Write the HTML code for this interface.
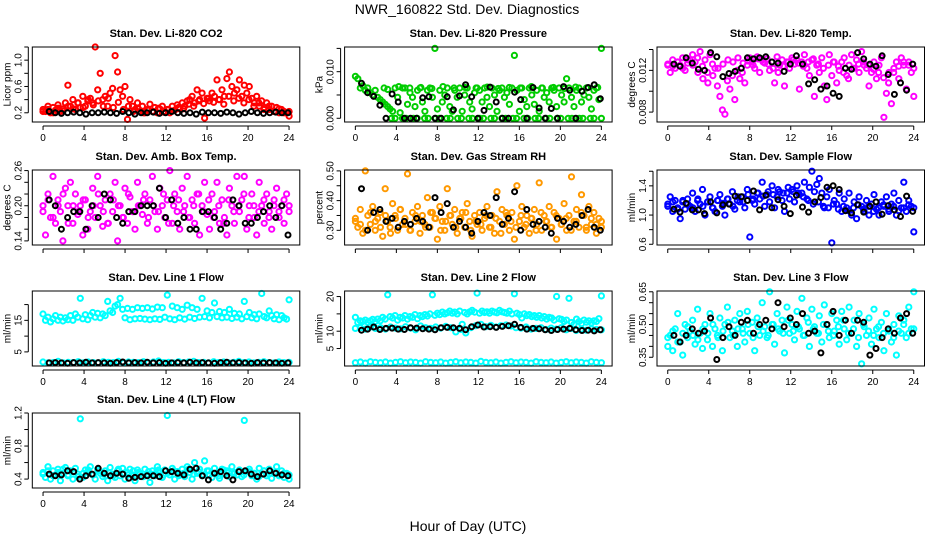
<!DOCTYPE html>
<html><head><meta charset="utf-8">
<style>
html,body{margin:0;padding:0;background:#fff;}
svg{display:block;font-family:"Liberation Sans",Arial,sans-serif;}
</style></head>
<body>
<svg id="chart" width="936" height="540" viewBox="0 0 936 540">
<rect width="936" height="540" fill="#fff"/>
<text x="467" y="14" text-anchor="middle" font-size="14">NWR_160822  Std. Dev. Diagnostics</text>
<text x="468" y="531" text-anchor="middle" font-size="14">Hour of Day (UTC)</text>
</svg>
<script>
// ---- data arrays ----
const hourTicks = [0,4,8,12,16,20,24];
const hourTickLabels = ["0","4","8","12","16","20","24"];

const co2Cloud = [.25,.22,.3,.2,.28,.24,.32,.22,.26,.35,.62,.3,.4,.25,.35,.28,.45,.3,.38,.42,.35,1.2,.55,.8,.4,.45,.3,.5,.57,1.07,.82,.55,.45,.6,.1,.4,.3,.25,.35,.22,.3,.2,.25,.33,.22,.28,.2,.26,.3,.22,.25,.2,.3,.24,.32,.26,.35,.3,.38,.4,.45,.35,.55,.4,.5,.12,.42,.38,.5,.45,.7,.4,.55,.45,.72,.82,.6,.5,.55,.7,.45,.62,.5,.6,.42,.35,.45,.3,.38,.28,.35,.25,.3,.22,.28,.2,.25,.22,.2,.15];
const co2Low = [.22,.25,.2,.27,.23,.3,.26,.35,.28,.4,.32,.38,.3,.42,.28,.36,.25,.3,.22,.26,.2,.24,.22,.27,.21,.25,.23,.28,.26,.33,.3,.38,.34,.42,.36,.4,.33,.45,.38,.42,.35,.4,.3,.35,.25,.3,.22,.26,.2,.22];
const co2Black = [.22,.2,.19,.2,.21,.2,.18,.2,.2,.21,.2,.19,.22,.2,.18,.2,.2,.21,.19,.2,.22,.2,.19,.2,.18,.21,.2,.2,.19,.21,.2,.18,.2,.22,.2,.19,.2,.21,.2,.2];

const pressCloud = [.009,.0085,.0065,.007,.006,.0065,.0055,.005,.006,.0045,.004,.0035,.003,.0025,.002,.0015,.0065,.0045,.0012,.0065,.0065,.003,.0055,.0045,.0025,.006,.0065,.0035,.0015,.006,.0065,.0045,.015,.002,.006,.0035,.005,.0065,.0025,.0015,.006,.0045,.0065,.0015,.005,.0065,.0035,.002,.0055,.0065,.006,.0035,.0065,.0045,.0025,.0065,.005,.0015,.006,.0065,.0045,.0055,.003,.0065,.0135,.006,.0015,.0065,.004,.0025,.0065,.005,.003,.006,.0015,.0065,.0045,.0055,.0035,.0065,.006,.0025,.0065,.005,.0035,.0085,.0065,.0045,.0025,.006,.0065,.0035,.005,.0065,.0045,.002,.006,.0065,.004,.015];
const pressFloor = [.0065,.0062,.0,.0,.0068,.0,.0,.0065,.0,.0,.0066,.0,.0,.0064,.0,.0,.0068,.0,.0,.0065,.0,.0,.0066,.0,.0,.0065,.0,.0,.0067,.0,.0,.0064,.0,.0,.0066,.0,.0,.0065,.0,.0,.0068,.0,.0,.0065,.0,.0,.0066,.0,.0,.0064,.0,.0,.0067,.0,.0,.0065,.0,.0,.0066,.0];
const pressBlack = [.0075,.0055,.0047,.0028,.0,.0052,.0035,.0,.0,.0,.0044,.0046,.0,.0,.0046,.0018,.0048,.0072,.0046,.0,.0017,.0067,.0035,.0,.0,.0056,.004,.0,.0066,.0022,.0,.0021,.0,.0068,.006,.0,.0058,.0066,.0072,.0042];

const ltempCloud = [.0125,.0118,.013,.0122,.0128,.0125,.0132,.012,.0127,.013,.0135,.0128,.0132,.0138,.0124,.013,.0118,.0135,.0126,.0122,.0105,.0095,.0082,.0078,.011,.0102,.0115,.0092,.012,.0112,.0118,.0108,.0125,.0132,.0128,.0122,.0133,.0118,.013,.0127,.0131,.012,.0128,.0108,.0133,.0125,.013,.0105,.0128,.0122,.0132,.0126,.013,.0102,.0128,.0135,.0122,.0115,.013,.0095,.0125,.0118,.0132,.0105,.0092,.0135,.0115,.0128,.0108,.012,.0128,.0132,.0115,.0125,.0135,.0122,.013,.0118,.0138,.0125,.0122,.0105,.0118,.0128,.0112,.0125,.0132,.0075,.0098,.0118,.0088,.0122,.0128,.0112,.0132,.0125,.0102,.0128,.0118,.0095];
const ltempDense = [.0126,.0124,.0128,.0122,.013,.0125,.0118,.0112,.0108,.0115,.0122,.0126,.013,.0128,.0132,.0127,.0129,.0125,.0131,.0128,.0126,.0122,.0118,.0124,.0128,.013,.0127,.0124,.0128,.0131,.0126,.0122,.0125,.0128,.0124,.0118,.0112,.0122,.0126,.0128,.0125,.0121,.0118,.0113,.0108,.0118,.0124,.0128,.0125,.0122];
const ltempBlack = [.0126,.0124,.0132,.0127,.0121,.012,.0137,.0133,.0114,.0117,.0119,.0122,.0132,.0131,.0132,.0133,.0128,.0127,.0119,.0126,.0134,.0126,.0107,.0111,.0102,.0105,.0098,.0095,.0122,.0121,.0137,.0131,.0126,.0124,.0134,.0116,.0097,.0108,.0101,.0126];

const boxCloud = [.2,.15,.22,.18,.25,.17,.21,.19,.14,.23,.2,.24,.17,.22,.185,.2,.15,.21,.16,.19,.23,.18,.25,.2,.165,.21,.17,.22,.19,.24,.14,.2,.18,.23,.17,.215,.19,.16,.24,.2,.185,.22,.17,.21,.25,.19,.16,.23,.2,.18,.21,.26,.17,.22,.19,.16,.23,.2,.25,.18,.21,.17,.22,.15,.2,.24,.185,.16,.22,.19,.24,.17,.21,.18,.15,.23,.2,.17,.25,.19,.21,.25,.16,.2,.22,.18,.15,.24,.2,.17,.22,.19,.16,.21,.23,.18,.2,.17,.22,.19];
const boxDense = [.19,.21,.18,.2,.22,.17,.2,.19,.21,.18,.2,.22,.19,.17,.21,.2,.18,.22,.19,.2,.21,.18,.2,.19,.22,.17,.2,.21,.19,.18,.2,.22,.19,.21,.18,.2,.17,.21,.19,.2,.22,.18,.2,.19,.21,.18,.2,.19,.21,.2];
const boxBlack = [.21,.2,.16,.18,.19,.19,.16,.2,.18,.22,.21,.18,.17,.19,.19,.2,.2,.2,.23,.18,.21,.17,.18,.16,.16,.19,.19,.18,.16,.17,.21,.2,.17,.17,.18,.19,.2,.18,.2,.15];

const rhCloud = [.33,.31,.37,.29,.5,.35,.32,.38,.3,.34,.36,.28,.44,.33,.31,.39,.35,.3,.37,.32,.34,.49,.3,.36,.33,.38,.29,.35,.32,.41,.31,.36,.34,.27,.38,.33,.3,.44,.35,.32,.37,.29,.34,.36,.31,.39,.33,.28,.35,.32,.36,.3,.34,.38,.31,.35,.29,.43,.33,.37,.32,.35,.3,.36,.27,.45,.33,.38,.31,.35,.29,.34,.37,.32,.46,.3,.35,.33,.38,.31,.36,.27,.34,.32,.39,.3,.35,.48,.33,.37,.31,.42,.35,.3,.38,.32,.36,.29,.34,.31];
const rhDense = [.34,.32,.3,.36,.33,.31,.35,.29,.34,.37,.32,.3,.35,.33,.31,.36,.34,.3,.33,.35,.31,.34,.36,.3,.33,.32,.35,.31,.34,.29,.36,.33,.31,.35,.32,.34,.3,.36,.33,.31,.35,.32,.34,.3,.33,.36,.31,.34,.32,.33];
const rhBlack = [.44,.3,.36,.37,.33,.34,.31,.33,.32,.34,.33,.31,.41,.36,.39,.31,.33,.31,.29,.33,.36,.35,.41,.32,.34,.43,.3,.37,.32,.33,.31,.29,.34,.33,.31,.32,.35,.37,.31,.3];

const flowCloud = [1.15,1.25,1.05,1.2,1.1,.95,1.18,1.08,1.22,1.12,1.3,1.05,1.2,1.15,1.35,1.0,1.18,1.25,1.1,1.05,1.2,1.28,1.12,1.0,1.22,1.15,1.32,1.08,1.2,1.18,1.25,1.1,1.35,.7,1.2,1.15,1.3,1.22,1.45,1.12,1.28,1.18,1.4,1.1,1.25,1.32,1.2,1.05,1.3,1.22,1.35,1.18,1.4,1.28,1.3,1.45,1.22,1.38,1.6,1.32,1.42,1.5,1.3,1.1,1.25,1.35,.62,1.2,1.15,1.3,1.05,1.22,1.1,1.3,1.0,1.18,.95,1.25,1.12,1.05,1.2,1.0,1.15,1.28,1.08,1.0,1.18,1.12,1.25,1.05,1.15,1.3,1.0,1.2,1.1,1.45,1.05,1.2,1.12,.77];
const flowDense = [1.12,1.18,1.08,1.2,1.15,1.1,1.22,1.12,1.18,1.1,1.2,1.16,1.22,1.12,1.25,1.18,1.28,1.22,1.3,1.26,1.32,1.28,1.35,1.3,1.38,1.32,1.3,1.25,1.2,1.15,1.18,1.12,1.1,1.15,1.08,1.12,1.06,1.1,1.14,1.08,1.12,1.05,1.1,1.14,1.08,1.12,1.06,1.1,1.14,1.1];
const flowBlack = [1.08,1.04,1.16,1.07,1.07,1.02,1.18,1.03,1.14,1.15,1.26,1.25,1.2,1.33,1.07,1.27,1.1,1.21,1.12,1.02,1.27,1.11,1.04,1.18,1.24,1.38,1.4,1.35,1.06,1.03,1.14,1.04,1.12,1.18,1.01,1.13,1.07,.98,1.26,1.05];

const line1Upper = [17,15,16,14.5,15.5,16.5,15,16,14.8,15.8,15.2,16.5,15,17,16,22,15.5,16.8,15.2,16.5,17.5,16,17.2,15.8,17,16.5,21,18,17.5,19.5,20,22,18.5,15.8,18.8,15.2,18.5,15.5,19,15.6,18.8,15.4,19,15.2,18.6,15.5,19.2,15.3,19,16,23,15.5,19.5,15.2,19,15.8,18.5,15.4,19.8,16,19,15.6,18.5,16,22,16.2,18,15.8,17.5,20.5,16.2,17.8,15.8,17.5,16,18.5,15.6,17.2,16,17,15.5,21,16.2,17.5,15.8,16.8,15.5,17,23.5,16.2,15.8,18,16.5,15.5,16.8,15.2,16.5,15.8,15.4,21.5];
const line1Lower = [1.8,1.5,1.6,2,1.5,1.7,1.6,1.9,1.5,1.8,1.6,1.5,1.9,1.7,1.6,2,1.5,1.8,1.7,1.6,1.9,1.5,1.8,2.1,1.6,1.7,1.5,1.9,1.6,1.8,2,1.6,1.7,1.5,1.9,1.6,1.8,1.5,1.7,2,1.6,1.8,1.5,1.7,1.9,1.6,1.5,1.8,1.6,1.7];
const line1Black = [1.5,1.6,1.5,1.4,1.6,1.5,1.7,1.5,1.6,1.5,1.4,1.6,1.8,1.5,1.6,1.5,1.7,1.5,1.6,1.4,1.5,1.6,1.5,1.7,1.5,1.6,1.5,1.4,1.6,1.7,1.5,1.6,1.5,1.4,1.6,1.5,1.6,1.5,1.4,1.5];

const line2Upper = [14,12.5,13,12.8,13.2,12.6,13,13.4,12.8,13.5,13,14,13.5,20.5,14.2,13.8,14.5,13.2,14,13.8,14.5,13.5,14.2,14,14.8,13.6,14.5,14.2,14.8,14.4,15,20.5,14.6,15.2,14.8,15.5,15,15.3,15.8,15.2,15.5,15,15.8,12,15.4,15,15.6,16,15.5,21,15.2,15.8,15.4,15.6,15.2,15.8,15.5,15.3,16,15.6,15.4,15.2,15.8,15,20.8,15.2,14.8,13.8,15,14.5,14.8,14.2,14.5,14,14.5,13.8,14.2,13.5,14,13.8,13.2,20,13.6,13.4,12.8,13.2,19.5,12.5,12,13.5,12.8,12.2,13.2,12.6,13,12.4,13,12.8,13.6,20.2];
const line2Middle = [10.8,11,10.6,11.2,10.8,11,10.6,11.2,10.9,10.7,11.3,10.9,10.4,11.5,11,10.8,11.2,10.9,11.4,11,9.8,10.5,9.5,11,11.6,12,11.3,11.7,11.2,11.6,11.8,11.5,11,10.9,11.2,10.6,10.8,11,10.5,10.9,10.6,11,10.4,10.8,10.2,10.6,10.3,10.7,10.5,10.4];
const line2Bottom = [.9,1.1,.8,1.2,1,.9,1.1,.8,1,1.2,.9,1.1,1,.8,1.2,1,.9,1.1,.8,1,1.2,.9,1.1,1,.8,1.3,1,.9,1.1,.8,1,1.2,.9,1.1,1,.8,1.2,1,.9,1.1,.8,1,1.2,.9,1.1,1,.8,1.2,1,.9];
const line2Black = [10.3,10.6,11.2,10.5,10.8,10.9,10.6,10.5,11,10.9,10.7,10.6,10.4,11,11.1,11,10.8,10.4,11.3,11.8,11.2,11.3,11.1,11.4,11.6,12,11.1,10.6,10.8,10.7,10.4,10.2,10.5,10.6,10.8,10.4,10.2,10.3,10.1,10.4];

const line3Cloud = [.4,.45,.38,.48,.55,.42,.36,.5,.44,.47,.52,.41,.57,.46,.39,.5,.43,.55,.4,.48,.45,.53,.38,.5,.58,.44,.47,.52,.4,.55,.48,.42,.56,.46,.51,.38,.53,.45,.6,.49,.44,.65,.5,.41,.55,.47,.52,.37,.58,.46,.5,.43,.56,.48,.62,.45,.53,.4,.57,.49,.46,.54,.42,.59,.5,.44,.55,.47,.52,.41,.56,.48,.43,.58,.46,.52,.4,.55,.32,.49,.45,.53,.41,.57,.48,.44,.51,.38,.55,.47,.42,.5,.36,.54,.46,.52,.44,.58,.48,.65];
const line3Dense = [.44,.47,.42,.46,.49,.45,.43,.48,.46,.5,.44,.47,.51,.45,.48,.46,.5,.44,.49,.47,.45,.5,.48,.46,.52,.47,.49,.45,.51,.48,.46,.5,.47,.45,.49,.52,.46,.48,.44,.5,.47,.45,.49,.46,.48,.44,.47,.5,.46,.48];
const line3Black = [.45,.42,.45,.48,.46,.47,.53,.34,.44,.49,.45,.51,.52,.46,.5,.52,.48,.6,.49,.53,.5,.55,.46,.47,.37,.5,.56,.45,.52,.46,.52,.51,.36,.39,.44,.48,.46,.53,.55,.46];

const line4Cloud = [.48,.42,.55,.4,.5,.45,.52,.38,.47,.54,.44,.5,.4,.53,.46,1.13,.42,.51,.48,.55,.45,.4,.52,.47,.43,.5,.38,.54,.46,.42,.5,.44,.53,.4,.48,.52,.45,.38,.51,.47,.43,.52,.46,.36,.5,.44,.55,.48,.42,.51,1.17,.45,.53,.4,.49,.46,.52,.43,.55,.48,.4,.6,.47,.52,.44,.62,.5,.45,.42,.53,.47,.41,.52,.46,.5,.43,.55,.48,.45,.51,.43,1.11,.49,.52,.44,.47,.4,.53,.46,.5,.44,.52,.41,.48,.55,.45,.5,.42,.47,.4];
const line4Dense = [.46,.5,.44,.48,.52,.45,.49,.43,.47,.51,.45,.5,.46,.48,.44,.52,.47,.45,.5,.48,.43,.49,.46,.51,.45,.48,.5,.44,.47,.52,.46,.49,.45,.5,.47,.44,.51,.48,.46,.5,.45,.49,.47,.43,.5,.46,.48,.44,.47,.45];
const line4Black = [.46,.44,.45,.5,.49,.4,.44,.46,.53,.47,.44,.47,.46,.41,.42,.43,.44,.44,.43,.5,.49,.47,.45,.52,.53,.44,.39,.47,.49,.44,.39,.49,.5,.46,.43,.46,.5,.47,.45,.44];

// ---- layout ----
const colLeft = [32.3, 344.6, 657];
const rowTop = [47, 170, 291, 413];
const boxW = 267.5, boxH = 75, pad = 10.75;
const svg = document.getElementById('chart');
const NS = 'http://www.w3.org/2000/svg';
function mk(tag, attrs, parent){ const e=document.createElementNS(NS,tag); for(const k in attrs) e.setAttribute(k,attrs[k]); (parent||svg).appendChild(e); return e; }

const panels = [
 {key:'co2', title:'Stan. Dev. Li-820 CO2', ylab:'Licor ppm', col:0,row:0, ymin:0.06,ymax:1.2, ticks:[0.2,0.4,0.6,0.8,1.0,1.2], labels:['0.2','','0.6','','1.0',''], clouds:[[co2Cloud,'#ff0000'],[co2Low,'#ff0000']], black:co2Black},
 {key:'pressure', title:'Stan. Dev. Li-820 Pressure', ylab:'kPa', col:1,row:0, ymin:-0.0008,ymax:0.0153, ticks:[0,0.005,0.01,0.015], labels:['0.000','','0.010',''], clouds:[[pressCloud,'#00cc00'],[pressFloor,'#00cc00']], black:pressBlack, floorStart:2.8},
 {key:'licor-temp', title:'Stan. Dev. Li-820 Temp.', ylab:'degrees C', col:2,row:0, ymin:0.00705,ymax:0.01424, ticks:[0.008,0.010,0.012,0.014], labels:['0.008','','0.012',''], clouds:[[ltempCloud,'#ff00ff'],[ltempDense,'#ff00ff']], black:ltempBlack},
 {key:'box-temp', title:'Stan. Dev. Amb. Box Temp.', ylab:'degrees C', col:0,row:1, ymin:0.133,ymax:0.261, ticks:[0.14,0.16,0.18,0.20,0.22,0.24,0.26], labels:['0.14','','','0.20','','','0.26'], clouds:[[boxCloud,'#ff00ff'],[boxDense,'#ff00ff']], black:boxBlack},
 {key:'rh', title:'Stan. Dev. Gas Stream RH', ylab:'percent', col:1,row:1, ymin:0.2506,ymax:0.503, ticks:[0.30,0.35,0.40,0.45,0.50], labels:['0.30','','0.40','','0.50'], clouds:[[rhCloud,'#ff9900'],[rhDense,'#ff9900']], black:rhBlack},
 {key:'sample-flow', title:'Stan. Dev. Sample Flow', ylab:'ml/min', col:2,row:1, ymin:0.59,ymax:1.617, ticks:[0.6,0.8,1.0,1.2,1.4,1.6], labels:['0.6','','1.0','','1.4',''], clouds:[[flowCloud,'#0000ff'],[flowDense,'#0000ff']], black:flowBlack},
 {key:'line1', title:'Stan. Dev. Line 1 Flow', ylab:'ml/min', col:0,row:2, ymin:0.53,ymax:24.3, ticks:[5,10,15,20], labels:['5','','15',''], clouds:[[line1Upper,'#00ffff'],[line1Lower,'#00ffff']], black:line1Black},
 {key:'line2', title:'Stan. Dev. Line 2 Flow', ylab:'ml/min', col:1,row:2, ymin:-0.04,ymax:21.6, ticks:[5,10,15,20], labels:['5','10','','20'], clouds:[[line2Upper,'#00ffff'],[line2Middle,'#00ffff'],[line2Bottom,'#00ffff']], black:line2Black},
 {key:'line3', title:'Stan. Dev. Line 3 Flow', ylab:'ml/min', col:2,row:2, ymin:0.31,ymax:0.6536, ticks:[0.35,0.40,0.45,0.50,0.55,0.60,0.65], labels:['0.35','','','0.50','','','0.65'], clouds:[[line3Cloud,'#00ffff'],[line3Dense,'#00ffff']], black:line3Black},
 {key:'line4', title:'Stan. Dev. Line 4 (LT) Flow', ylab:'ml/min', col:0,row:3, ymin:0.292,ymax:1.2, ticks:[0.4,0.6,0.8,1.0,1.2], labels:['0.4','','0.8','','1.2'], clouds:[[line4Cloud,'#00ffff'],[line4Dense,'#00ffff']], black:line4Black}
];

panels.forEach(p=>{
  const L=colLeft[p.col], T=rowTop[p.row];
  const xs = h => L + pad + (h/24)*(boxW-2*pad);
  const ys = v => T + boxH - (v-p.ymin)/(p.ymax-p.ymin)*boxH;
  const g = mk('g',{});
  
  
  const tt = mk('text',{x:L+boxW/2,y:T-10,'text-anchor':'middle','font-size':'11','font-weight':'bold'},g);
  tt.textContent=p.title;
  
  
  const pts = mk('g',{fill:'none','stroke-width':'2'},g);
  
  
  p.clouds.forEach(([arr,color],ci)=>{
    const start = (ci===1 && p.floorStart) ? p.floorStart : 0;
    arr.forEach((v,i)=>{
      const h = start + i*(24-start)/(arr.length-1);
      const c = mk('circle',{cx:xs(h).toFixed(1),cy:ys(v).toFixed(1),r:'2.6',stroke:color},pts);
      
      
    });
  });
  p.black.forEach((v,i)=>{
    const h = 0.6 + i*23.3/(p.black.length-1);
    const c = mk('circle',{cx:xs(h).toFixed(1),cy:ys(v).toFixed(1),r:'2.5',stroke:'#000'},pts);
    
    
  });
  const bx = mk('rect',{x:L,y:T,width:boxW,height:boxH,fill:'none',stroke:'#000','stroke-width':'1'},g);
  
  
  const bottom=T+boxH;
  mk('line',{x1:xs(0),x2:xs(24),y1:bottom+4,y2:bottom+4,stroke:'#000'},g);
  hourTicks.forEach((h,i)=>{
    mk('line',{x1:xs(h),x2:xs(h),y1:bottom+4,y2:bottom+8,stroke:'#000'},g);
    if(p.row!==1){
      const t=mk('text',{x:xs(h),y:bottom+19,'text-anchor':'middle','font-size':'10'},g);
      t.textContent=hourTickLabels[i];
      
      
    }
  });
  const ax=L-4;
  mk('line',{x1:ax,x2:ax,y1:ys(p.ticks[0]),y2:ys(p.ticks[p.ticks.length-1]),stroke:'#000'},g);
  p.ticks.forEach((v,i)=>{
    const y=ys(v);
    if(y<T-2||y>bottom+2) return;
    mk('line',{x1:ax-4,x2:ax,y1:y,y2:y,stroke:'#000'},g);
    if(p.labels[i]){
      const t=mk('text',{x:ax-7,y:y,'text-anchor':'middle','font-size':'10',transform:`rotate(-90 ${ax-7} ${y})`},g);
      t.textContent=p.labels[i];
      
      
    }
  });
  const yl=mk('text',{x:L-22,y:T+boxH/2,'text-anchor':'middle','font-size':'10',transform:`rotate(-90 ${L-22} ${T+boxH/2})`},g);
  yl.textContent=p.ylab;
  
  
});
</script>
</body></html>
